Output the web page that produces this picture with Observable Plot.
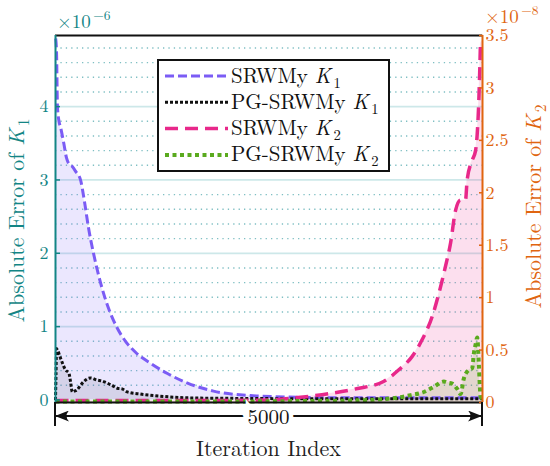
<!DOCTYPE html>
<html><head><meta charset="utf-8">
<script src="https://cdn.jsdelivr.net/npm/d3@7"></script>
<script src="https://cdn.jsdelivr.net/npm/@observablehq/plot@0.6"></script>
<style>body{margin:0;background:#fff} svg{display:block} svg text{font-family:"Latin Modern Roman","Liberation Serif",serif !important;}</style>
</head><body><div id="chart"></div>
<script>
// ---- data ----
// SRWMy K1, left axis (x1e-6)
const iterK1S = [2, 12, 23, 41, 59, 97, 129, 156, 199, 234, 293, 340, 386, 445, 527, 621, 714, 820, 937, 1112, 1311, 1546, 1850, 2283, 2576, 3220, 4000, 5000];
const valK1S  = [4.93, 4.75, 4.0, 3.8, 3.72, 3.5, 3.3, 3.22, 3.18, 3.12, 3.0, 2.7, 2.35, 2.0, 1.6, 1.25, 1.0, 0.8, 0.65, 0.5, 0.36, 0.23, 0.12, 0.06, 0.045, 0.03, 0.03, 0.03];
// PG-SRWMy K1, left axis (x1e-6)
const iterK1P = [0, 6, 12, 23, 59, 82, 117, 156, 176, 196, 222, 254, 293, 331, 410, 488, 540, 605, 660, 722, 780, 840, 995, 1148, 1347, 1698, 2283, 3000, 4000, 5000];
const valK1P  = [0.0, 0.35, 0.7, 0.68, 0.57, 0.5, 0.41, 0.37, 0.25, 0.11, 0.12, 0.14, 0.2, 0.25, 0.3, 0.27, 0.26, 0.23, 0.2, 0.16, 0.15, 0.11, 0.08, 0.06, 0.04, 0.025, 0.02, 0.015, 0.015, 0.015];
// SRWMy K2, right axis (x1e-8)
const iterK2S = [0, 1000, 2000, 2518, 2869, 3220, 3536, 3841, 4017, 4177, 4294, 4411, 4489, 4567, 4626, 4684, 4743, 4801, 4820, 4879, 4918, 4938, 4957, 4969, 4977, 5000];
const valK2S  = [0.02, 0.02, 0.02, 0.025, 0.05, 0.086, 0.133, 0.2, 0.31, 0.44, 0.6, 0.82, 1.04, 1.3, 1.52, 1.83, 1.93, 1.93, 2.12, 2.31, 2.4, 2.56, 2.88, 3.2, 3.42, 3.45];
// PG-SRWMy K2, right axis (x1e-8)
const iterK2P = [0, 2000, 3000, 3500, 3943, 4157, 4313, 4430, 4547, 4590, 4645, 4704, 4743, 4782, 4840, 4880, 4899, 4918, 4938, 4957, 4969, 4977, 5000];
const valK2P  = [0.01, 0.01, 0.015, 0.02, 0.04, 0.07, 0.1, 0.15, 0.2, 0.19, 0.18, 0.13, 0.08, 0.23, 0.31, 0.33, 0.47, 0.55, 0.62, 0.37, 0.15, 0.05, 0.04];

const leftTicks = [0, 1, 2, 3, 4];
const leftMinor = [0.2,0.4,0.6,0.8,1.2,1.4,1.6,1.8,2.2,2.4,2.6,2.8,3.2,3.4,3.6,3.8,4.2,4.4,4.6,4.8];
const rightTicks = [0, 0.5, 1, 1.5, 2, 2.5, 3, 3.5];
const rightTickLabels = ["0", "0.5", "1", "1.5", "2", "2.5", "3", "3.5"];
const seriesNames = ["SRWMy", "PG-SRWMy", "SRWMy", "PG-SRWMy"];
const seriesSubs = ["1", "1", "2", "2"];
const xLabel = "Iteration Index";
const spanLabel = "5000";
const yLeftLabel = "Absolute Error of ";
const yRightLabel = "Absolute Error of ";

// ---- layout / styles ----
const W = 550, H = 466, ML = 55, MR = 68, MT = 35, MB = 64;
const yLeftDomain = [-0.035, 4.97];
const yRightMax = 3.5;
const toL = v => yLeftDomain[0] + v / yRightMax * (yLeftDomain[1] - yLeftDomain[0]);
const TEAL = "#138585", ORANGE = "#e0650f";
const C = ["#7b5cf5", "#111111", "#e8288a", "#5aaa1e"];
const DASH = ["9,4", "3,2", "13,7", "4,3.5"];
const SW = [3, 3, 3.5, 4];
const FONT = "Latin Modern Roman, Liberation Serif, serif";

const k1s = iterK1S.map((i, k) => ({i, v: valK1S[k]}));
const k1p = iterK1P.map((i, k) => ({i, v: valK1P[k]}));
const k2s = iterK2S.map((i, k) => ({i, v: toL(valK2S[k])}));
const k2p = iterK2P.map((i, k) => ({i, v: toL(valK2P[k])}));
const rightPos = rightTicks.map(toL);
const curve = "monotone-x";
const lineOpts = k => ({x: "i", y: "v", stroke: C[k], strokeWidth: SW[k], strokeDasharray: DASH[k], strokeLinecap: "butt", curve});

const plot = Plot.plot({
  width: W, height: H,
  marginLeft: ML, marginRight: MR, marginTop: MT, marginBottom: MB,
  style: {fontFamily: FONT, background: "white"},
  x: {domain: [0, 5000], axis: null},
  y: {domain: yLeftDomain, axis: null},
  marks: [
    Plot.gridY(leftMinor, {stroke: "#7fbfc3", strokeOpacity: 1, strokeWidth: 1.4, strokeDasharray: "1.3,4.1"}),
    Plot.gridY(leftTicks.filter(d => d > 0), {stroke: "#cde8e9", strokeOpacity: 1, strokeWidth: 1.8}),
    Plot.areaY(k1s, {x: "i", y: "v", fill: C[0], fillOpacity: 0.15, curve}),
    Plot.areaY(k1p, {x: "i", y: "v", fill: "#3a3a50", fillOpacity: 0.12, curve}),
    Plot.areaY(k2s, {x: "i", y1: () => yLeftDomain[0], y2: "v", fill: C[2], fillOpacity: 0.15, curve}),
    Plot.areaY(k2p, {x: "i", y1: () => yLeftDomain[0], y2: "v", fill: C[3], fillOpacity: 0.15, curve}),
    Plot.line(k1s, lineOpts(0)),
    Plot.line(k1p, lineOpts(1)),
    Plot.line(k2s, lineOpts(2)),
    Plot.line(k2p, lineOpts(3)),
    Plot.ruleY([yLeftDomain[1]], {stroke: "#111", strokeWidth: 1.8}),
    Plot.ruleY([yLeftDomain[0]], {stroke: "#111", strokeWidth: 1.8}),
    Plot.ruleX([0], {stroke: TEAL, strokeWidth: 2}),
    Plot.ruleX([5000], {stroke: ORANGE, strokeWidth: 2}),
    Plot.axisY(leftTicks, {anchor: "left", tickSize: -5, tickPadding: 12, color: TEAL, fontSize: 18, strokeWidth: 1.5, label: null, tickFormat: d => String(d)}),
    Plot.axisY(rightPos, {anchor: "right", tickSize: -4, tickPadding: 7, color: ORANGE, fontSize: 18, strokeWidth: 1.5, label: null,
      tickFormat: d => rightTickLabels[rightPos.findIndex(p => Math.abs(p - d) < 1e-9)]})
  ]
});
document.getElementById("chart").appendChild(plot);

// ---- annotations through the library's scales ----
const svg = d3.select(plot);
const xs = plot.scale("x");
const x0 = xs.apply(0), x1 = xs.apply(5000), xm = xs.apply(2500);
const yb = H - MB;
const g = svg.append("g").style("font-family", FONT).attr("text-anchor", "start");

function kText(sel, prefix, sub, size) {
  if (prefix) sel.append("tspan").text(prefix);
  sel.append("tspan").attr("font-style", "italic").text("K");
  sel.append("tspan").attr("font-size", size * 0.7).attr("dx", size * 0.12).attr("dy", size * 0.24).text(sub);
}

// x "span" arrow
const defs = svg.append("defs");
defs.append("marker").attr("id", "ah").attr("viewBox", "0 0 14 11").attr("refX", 13).attr("refY", 5.5)
  .attr("markerWidth", 14).attr("markerHeight", 11).attr("markerUnits", "userSpaceOnUse").attr("orient", "auto-start-reverse")
  .append("path").attr("d", "M0,0 Q5,5.5 0,11 L14,5.5 Z").attr("fill", "#111");
const ay = yb + 14;
g.append("line").attr("x1", x0 + 1).attr("x2", x1 - 1).attr("y1", ay).attr("y2", ay)
  .attr("stroke", "#111").attr("stroke-width", 2).attr("marker-start", "url(#ah)").attr("marker-end", "url(#ah)");
[x0, x1].forEach(x => g.append("line").attr("x1", x).attr("x2", x).attr("y1", yb).attr("y2", yb + 24).attr("stroke", "#111").attr("stroke-width", 2));
g.append("text").attr("x", xm).attr("y", ay + 7.5).attr("text-anchor", "middle").attr("font-size", 21)
  .attr("fill", "#111").attr("stroke", "white").attr("stroke-width", 9).attr("paint-order", "stroke").text(spanLabel);
g.append("text").attr("x", xm).attr("y", H - 10).attr("text-anchor", "middle").attr("font-size", 22).attr("fill", "#222").text(xLabel);

// exponent labels
const e6 = g.append("text").attr("x", x0 + 2).attr("y", MT - 7).attr("text-anchor", "start").attr("font-size", 19).attr("fill", TEAL);
e6.append("tspan").text("×10");
e6.append("tspan").attr("font-size", 13.5).attr("dx", 2.5).attr("dy", -8).text("−6");
const e8 = g.append("text").attr("x", x1 + 3).attr("y", MT - 12).attr("text-anchor", "start").attr("font-size", 19).attr("fill", ORANGE);
e8.append("tspan").text("×10");
e8.append("tspan").attr("font-size", 13.5).attr("dx", 2.5).attr("dy", -8).text("−8");

// y labels
const yl = g.append("text").attr("transform", `translate(${ML - 31},${(MT + yb) / 2 + 2}) rotate(-90)`)
  .attr("text-anchor", "middle").attr("font-size", 22).attr("fill", TEAL);
kText(yl, yLeftLabel, "1", 22);
const yr = g.append("text").attr("transform", `translate(${x1 + 59},${(MT + yb) / 2 - 12}) rotate(-90)`)
  .attr("text-anchor", "middle").attr("font-size", 22).attr("fill", ORANGE);
kText(yr, yRightLabel, "2", 22);

// legend
const lg = g.append("g").attr("transform", "translate(158,60)");
lg.append("rect").attr("width", 231).attr("height", 111).attr("fill", "white").attr("stroke", "#111").attr("stroke-width", 2);
seriesNames.forEach((name, k) => {
  const cy = 16 + k * 26.3;
  lg.append("line").attr("x1", 7).attr("x2", 70).attr("y1", cy).attr("y2", cy)
    .attr("stroke", C[k]).attr("stroke-width", SW[k]).attr("stroke-dasharray", DASH[k]);
  const t = lg.append("text").attr("x", 73).attr("y", cy + 6.5).attr("text-anchor", "start").attr("font-size", 21).attr("fill", "#111");
  kText(t, name + " ", seriesSubs[k], 21);
});
</script>
</body></html>
